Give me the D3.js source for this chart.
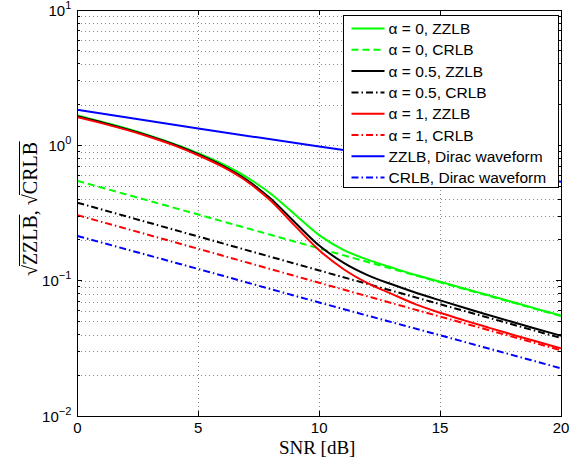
<!DOCTYPE html>
<html>
<head>
<meta charset="utf-8">
<script src="https://cdnjs.cloudflare.com/ajax/libs/d3/7.8.5/d3.min.js"></script>
<style>
  body { margin: 0; background: #fff; }
  svg { display: block; }
</style>
</head>
<body>
<script>
// ZZLB curves (solid lines) at every dB
var snrZ = [0, 1, 2, 3, 4, 5, 6, 7, 8, 9, 10, 11, 12, 13, 14, 15, 16, 17, 18, 19, 20];
var zzlbA0 = [1.660, 1.493, 1.337, 1.180, 1.026, 0.875, 0.728, 0.582, 0.439, 0.308, 0.217,
              0.169, 0.143, 0.125, 0.110, 0.0982, 0.0875, 0.0780, 0.0695, 0.0619, 0.0552];
var zzlbA05 = [1.641, 1.479, 1.324, 1.169, 1.014, 0.859, 0.708, 0.556, 0.403, 0.269, 0.182,
               0.136, 0.110, 0.0940, 0.0815, 0.0715, 0.0630, 0.0558, 0.0495, 0.0440, 0.0392];
var zzlbA1 = [1.618, 1.459, 1.306, 1.153, 1.000, 0.845, 0.695, 0.543, 0.389, 0.254, 0.168,
              0.122, 0.0959, 0.0798, 0.0668, 0.0579, 0.0509, 0.0450, 0.0399, 0.0355, 0.0316];

// straight-ish lines (Dirac ZZLB and all CRLBs)
var snrC = [0, 5, 10, 15, 20];
var zzlbDirac = [1.83, 1.33, 0.98, 0.73, 0.538];
var crlbA0 = [0.547, 0.308, 0.173, 0.0973, 0.0547];
var crlbA05 = [0.377, 0.212, 0.119, 0.067, 0.0377];
var crlbA1 = [0.305, 0.172, 0.0965, 0.0543, 0.0306];
var crlbDirac = [0.214, 0.122, 0.069, 0.0395, 0.0225];

var legendLabels = ["\u03b1 = 0, ZZLB", "\u03b1 = 0, CRLB", "\u03b1 = 0.5, ZZLB", "\u03b1 = 0.5, CRLB",
                    "\u03b1 = 1, ZZLB", "\u03b1 = 1, CRLB", "ZZLB, Dirac waveform", "CRLB, Dirac waveform"];
var xTicks = [0, 5, 10, 15, 20];
var yExps = [-2, -1, 0, 1];

var W = 584, H = 465;
var margin = {left: 77.3, right: 23, top: 10, bottom: 49};

var dash = "7,4", dashDot = "7,3,1.5,3";
var series = [
    {x: snrZ, y: zzlbA0, color: "#00ff00", dash: null},
    {x: snrC, y: crlbA0, color: "#00ff00", dash: dash},
    {x: snrZ, y: zzlbA05, color: "#000000", dash: null},
    {x: snrC, y: crlbA05, color: "#000000", dash: dashDot},
    {x: snrZ, y: zzlbA1, color: "#ff0000", dash: null},
    {x: snrC, y: crlbA1, color: "#ff0000", dash: dashDot},
    {x: snrC, y: zzlbDirac, color: "#0000ff", dash: null},
    {x: snrC, y: crlbDirac, color: "#0000ff", dash: dashDot}
];

var svg = d3.select("body").append("svg")
    .attr("width", W)
    .attr("height", H);

var x = d3.scaleLinear().domain([0, 20]).range([margin.left, W - margin.right]);
var y = d3.scaleLog().domain([0.01, 10]).range([H - margin.bottom, margin.top]);

var x0 = x.range()[0], x1 = x.range()[1], yb = y.range()[0], yt = y.range()[1];

// minor y values
var yMinor = [];
yExps.slice(0, 3).forEach(function(e) {
    for (var k = 2; k <= 9; k++) yMinor.push(k * Math.pow(10, e));
});
var yMajor = yExps.map(function(e) { return Math.pow(10, e); });

var tickFont = "'Liberation Sans', Arial, Helvetica, sans-serif";
var serif = "'Liberation Serif', 'Times New Roman', serif";

// grid
var grid = svg.append("g")
    .attr("stroke", "#888")
    .attr("stroke-width", 1)
    .attr("stroke-dasharray", "1,3")
    .attr("shape-rendering", "crispEdges");
grid.selectAll(".gy")
    .data(yMinor.concat(yMajor.slice(1, 3)))
    .enter().append("line")
    .attr("x1", x0).attr("x2", x1)
    .attr("y1", function(d) { return Math.round(y(d)) + 0.5; })
    .attr("y2", function(d) { return Math.round(y(d)) + 0.5; });
grid.selectAll(".gx")
    .data(xTicks.slice(1, 4))
    .enter().append("line")
    .attr("y1", yt).attr("y2", yb)
    .attr("x1", function(d) { return Math.round(x(d)) + 0.5; })
    .attr("x2", function(d) { return Math.round(x(d)) + 0.5; });

// lines
var plot = svg.append("g");
series.forEach(function(s) {
    var pts = s.x.map(function(v, i) { return [v, s.y[i]]; });
    var line = d3.line()
        .x(function(d) { return x(d[0]); })
        .y(function(d) { return y(d[1]); })
        .curve(d3.curveMonotoneX);
    plot.append("path")
        .attr("d", line(pts))
        .attr("fill", "none")
        .attr("stroke", s.color)
        .attr("stroke-width", 2)
        .attr("stroke-dasharray", s.dash);
});

// axes box + inward ticks
var axes = svg.append("g").attr("shape-rendering", "crispEdges");
axes.append("rect")
    .attr("x", x0).attr("y", yt)
    .attr("width", x1 - x0).attr("height", yb - yt)
    .attr("fill", "none").attr("stroke", "#000").attr("stroke-width", 1);

function addTicks(vals, len, isX) {
    vals.forEach(function(v) {
        if (isX) {
            var px = x(v);
            axes.append("line").attr("x1", px).attr("x2", px).attr("y1", yb).attr("y2", yb - len).attr("stroke", "#000");
            axes.append("line").attr("x1", px).attr("x2", px).attr("y1", yt).attr("y2", yt + len).attr("stroke", "#000");
        } else {
            var py = y(v);
            axes.append("line").attr("x1", x0).attr("x2", x0 + len).attr("y1", py).attr("y2", py).attr("stroke", "#000");
            axes.append("line").attr("x1", x1).attr("x2", x1 - len).attr("y1", py).attr("y2", py).attr("stroke", "#000");
        }
    });
}
addTicks(xTicks, 5, true);
addTicks(yMajor, 5, false);
addTicks(yMinor, 3, false);

// x tick labels
svg.append("g").selectAll("text")
    .data(xTicks)
    .enter().append("text")
    .attr("x", function(d) { return x(d); })
    .attr("y", yb + 17)
    .attr("text-anchor", "middle")
    .style("font-family", tickFont)
    .style("font-size", "15px")
    .text(function(d) { return d; });

// y tick labels 10^e
var yl = svg.append("g").selectAll("text")
    .data(yExps)
    .enter().append("text")
    .attr("x", x0 - 6)
    .attr("y", function(d) { return y(Math.pow(10, d)) + 5.5; })
    .attr("text-anchor", "end")
    .style("font-family", tickFont)
    .style("font-size", "15px");
yl.append("tspan").text("10");
yl.append("tspan")
    .attr("dy", -7)
    .style("font-size", "11px")
    .text(function(d) { return d < 0 ? "\u2212" + (-d) : d; });

// x label
svg.append("text")
    .attr("x", (x0 + x1) / 2 - 2)
    .attr("y", 453.5)
    .attr("text-anchor", "middle")
    .style("font-family", serif)
    .style("font-size", "19px")
    .text("SNR [dB]");

// y label with overlined square roots
var ylab = svg.append("g").attr("transform", "translate(37," + ((yt + yb) / 2 - 4) + ") rotate(-90)");
var ylt = ylab.append("text")
    .attr("text-anchor", "middle")
    .style("font-family", serif)
    .style("font-size", "20px");
ylt.append("tspan").text("\u221aZZLB, \u221aCRLB");
var node = ylt.node();
[[0, 4], [7, 11]].forEach(function(r) {
    var a = node.getEndPositionOfChar(r[0]);
    var b = node.getEndPositionOfChar(r[1]);
    ylab.append("line")
        .attr("x1", a.x - 0.8).attr("x2", b.x + 0.5)
        .attr("y1", -17.5).attr("y2", -17.5)
        .attr("stroke", "#000").attr("stroke-width", 1);
});

// legend
var lg = svg.append("g");
var lx = 343.5, ly = 15.5, lw = 215, lh = 171.5, rowH = 21.3;
lg.append("rect")
    .attr("x", lx).attr("y", ly).attr("width", lw).attr("height", lh)
    .attr("fill", "#fff").attr("stroke", "#000").attr("stroke-width", 1)
    .attr("shape-rendering", "crispEdges");
series.forEach(function(s, i) {
    var cy = ly + 13 + i * rowH;
    lg.append("line")
        .attr("x1", lx + 8).attr("x2", lx + 41)
        .attr("y1", cy).attr("y2", cy)
        .attr("stroke", s.color).attr("stroke-width", 2)
        .attr("stroke-dasharray", s.dash);
    lg.append("text")
        .attr("x", lx + 45).attr("y", cy + 5.5)
        .style("font-family", tickFont)
        .style("font-size", "15.5px")
        .text(legendLabels[i]);
});
</script>
</body>
</html>
